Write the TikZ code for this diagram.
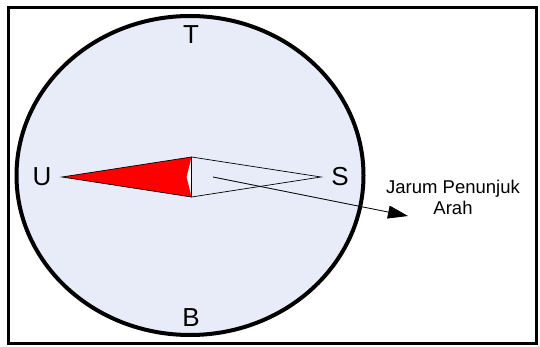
\documentclass[tikz,border=0pt]{standalone}
\usepackage{fontspec}
\setmainfont{Liberation Sans}
\usetikzlibrary{arrows.meta}
\definecolor{dialfill}{RGB}{232,236,248}

\begin{document}
\begin{tikzpicture}[x=1pt, y=-1pt, >={Triangle[length=20pt,width=13pt]},
    dir/.style={font=\fontsize{26}{30}\selectfont, inner sep=0pt},
    note/.style={font=\fontsize{18.5}{21}\selectfont, align=center, inner sep=0pt}]
    \useasboundingbox (0,0) rectangle (540,347);
    \draw[line width=3pt] (8,8) rectangle (536,343);

    % dial
    \draw[line width=4pt, fill=dialfill]
        (190,175.5) ellipse [x radius=173.5pt, y radius=159.5pt];

    % needle
    \coordinate (tipU) at (62,177);
    \coordinate (tipS) at (321,177);
    \coordinate (top) at (191.5,157);
    \coordinate (bot) at (191.5,197);
    \coordinate (notch) at (186.5,177);
    \fill[white] (notch) -- (top) -- (bot) -- cycle;
    \fill[red] (tipU) -- (top) -- (notch) -- (bot) -- cycle;
    \draw[line width=0.7pt] (top) -- (tipU) -- (bot);
    \draw[line width=0.7pt] (top) -- (tipS) -- (bot) -- cycle;

    \node[dir] (T) at (191,35) {T};
    \node[dir] (B) at (191,318) {B};
    \node[dir] (U) at (42,177) {U};
    \node[dir] (S) at (340,177) {S};

    \node[note] (label) at (453,197) {Jarum Penunjuk\\Arah};

    \coordinate (pivot) at (213,177);
    \coordinate (arrowend) at (408,216);
    \draw[->, line width=0.8pt] (pivot) -- (arrowend);
\end{tikzpicture}
\end{document}
